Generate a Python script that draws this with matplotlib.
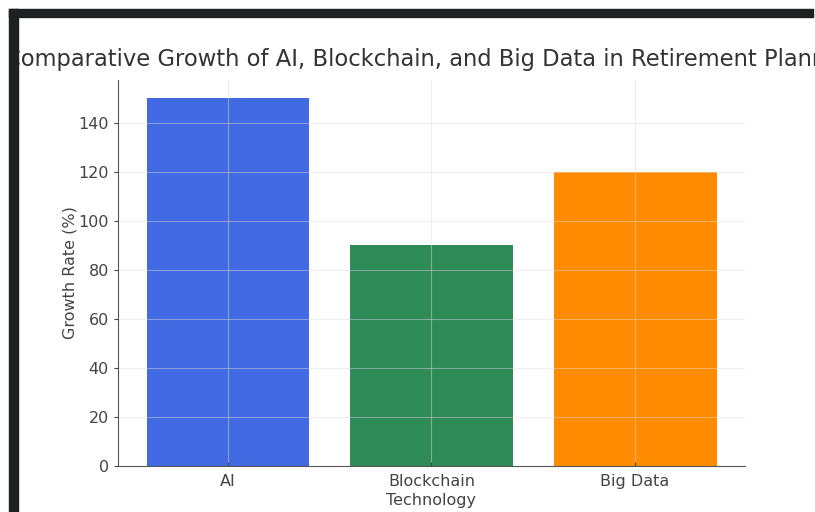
import matplotlib
matplotlib.use("Agg")
import matplotlib.pyplot as plt
from matplotlib.patches import Rectangle

categories = ["AI", "Blockchain", "Big Data"]
growth = [150, 90, 120]
colors = ["#4169E1", "#2E8B57", "#FF8C00"]
yticks = [0, 20, 40, 60, 80, 100, 120, 140]

W, H = 815, 512
fig = plt.figure(figsize=(W / 100, H / 100), dpi=100)
fig.patch.set_facecolor("white")

ax = fig.add_axes([118 / W, (H - 466) / H, (745 - 118) / W, (466 - 80) / H])
ax.bar(categories, growth, color=colors, width=0.8)
ax.set_yticks(yticks)
ax.grid(True, color="#dddddd", linewidth=0.8, alpha=0.45)
for s in ["top", "right"]:
    ax.spines[s].set_visible(False)
for s in ["left", "bottom"]:
    ax.spines[s].set_color("#555555")
ax.tick_params(axis="y", colors="#444444", labelsize=11.5, length=3)
ax.tick_params(axis="x", colors="#444444", labelsize=11.5, length=3, direction="in", pad=6)
ax.set_ylabel("Growth Rate (%)", color="#444444", fontsize=11.5, labelpad=1)
ax.set_xlabel("Technology", color="#444444", fontsize=11.5, labelpad=3)
ax.set_xticks(range(3))
ax.set_xticklabels(["AI", "Blockchain", "Big Data"])
ax.set_title("Comparative Growth of AI, Blockchain, and Big Data in Retirement Planning",
             fontsize=16.3, color="#333333", pad=10, x=0.503)

# screenshot border (cropped screenshot: white margin left of the dark frame)
fig.patches.append(Rectangle((0, 0), 9 / W, 1, transform=fig.transFigure,
                             color="white", zorder=10))
fig.patches.append(Rectangle((9 / W, 0), 9 / W, (H - 9) / H, transform=fig.transFigure,
                             color="#1e2022", zorder=11))
fig.patches.append(Rectangle((9 / W, (H - 17) / H), (W - 11) / W, 8 / H, transform=fig.transFigure,
                             color="#1e2022", zorder=11))

fig.savefig("out.png", dpi=100)
